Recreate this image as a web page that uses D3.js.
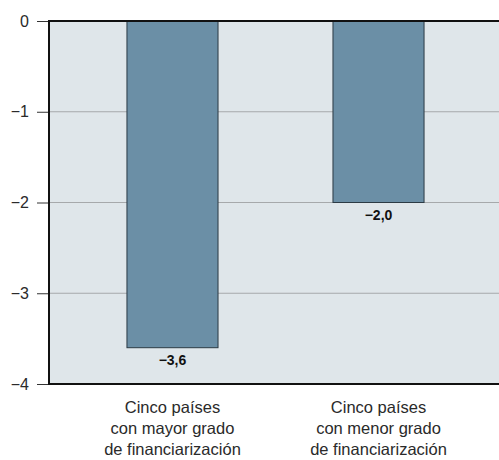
<!DOCTYPE html>
<html>
<head>
<meta charset="utf-8">
<script src="https://cdn.jsdelivr.net/npm/d3@7"></script>
<style>
  html, body { margin: 0; padding: 0; background: #fff; }
  svg { display: block; font-family: "Liberation Sans", Arial, sans-serif; }
</style>
</head>
<body>
<svg id="chart" width="499" height="460"></svg>
<script>
// Categories, values and tick labels
const categories = [
  ["Cinco países", "con mayor grado", "de financiarización"],
  ["Cinco países", "con menor grado", "de financiarización"]
];
const values = [-3.6, -2.0];
const valueLabels = ["\u22123,6", "\u22122,0"];
const yTicks = [0, -1, -2, -3, -4];
const yTickLabels = ["0", "\u22121", "\u22122", "\u22123", "\u22124"];

const svg = d3.select("#chart");
const plot = { left: 49, right: 510, top: 21, bottom: 384 };

const y = d3.scaleLinear().domain([0, -4]).range([plot.top, plot.bottom]);
const x = d3.scaleBand()
  .domain(d3.range(categories.length))
  .range([12, 539])
  .paddingInner(0.558)
  .paddingOuter(0.558);

// Plot background
svg.append("rect")
  .attr("x", plot.left).attr("y", plot.top)
  .attr("width", plot.right - plot.left).attr("height", plot.bottom - plot.top)
  .attr("fill", "#dfe6ea");

// Gridlines
svg.append("g").selectAll("line")
  .data(yTicks.filter(d => d !== 0 && d !== -4))
  .join("line")
  .attr("x1", plot.left).attr("x2", plot.right)
  .attr("y1", d => y(d)).attr("y2", d => y(d))
  .attr("stroke", "#a6a9ab").attr("stroke-width", 1.2);

// Bars
svg.append("g").selectAll("rect")
  .data(values)
  .join("rect")
  .attr("x", (d, i) => x(i))
  .attr("y", y(0))
  .attr("width", x.bandwidth())
  .attr("height", d => y(d) - y(0))
  .attr("fill", "#6b8fa6")
  .attr("stroke", "#2b3a44")
  .attr("stroke-width", 1);

// Frame: top, left and bottom edges
svg.append("line").attr("x1", plot.left).attr("x2", plot.right)
  .attr("y1", plot.top).attr("y2", plot.top)
  .attr("stroke", "#111").attr("stroke-width", 2);
svg.append("line").attr("x1", plot.left).attr("x2", plot.right)
  .attr("y1", plot.bottom).attr("y2", plot.bottom)
  .attr("stroke", "#111").attr("stroke-width", 2);
svg.append("line").attr("x1", plot.left).attr("x2", plot.left)
  .attr("y1", plot.top - 1).attr("y2", plot.bottom + 1)
  .attr("stroke", "#111").attr("stroke-width", 2);

// Y axis
const yAxis = d3.axisLeft(y)
  .tickValues(yTicks)
  .tickFormat((d, i) => yTickLabels[i])
  .tickSize(11)
  .tickPadding(8);
const gy = svg.append("g").attr("transform", `translate(${plot.left - 1},0)`).call(yAxis);
gy.select(".domain").remove();
gy.selectAll(".tick line").attr("stroke", "#333").attr("stroke-width", 1);
gy.selectAll(".tick text")
  .attr("fill", "#2a2a2a")
  .style("font-size", "16px")
  .style("font-family", "\"Liberation Sans\", Arial, sans-serif");

// Value labels under each bar
svg.append("g").selectAll("text")
  .data(values)
  .join("text")
  .attr("x", (d, i) => x(i) + x.bandwidth() / 2)
  .attr("y", d => y(d) + 17)
  .attr("text-anchor", "middle")
  .attr("font-size", "14px")
  .attr("font-weight", "bold")
  .attr("fill", "#111")
  .text((d, i) => valueLabels[i]);

// Category labels
const cat = svg.append("g").selectAll("text")
  .data(categories)
  .join("text")
  .attr("x", (d, i) => x(i) + x.bandwidth() / 2)
  .attr("y", 413)
  .attr("text-anchor", "middle")
  .attr("font-size", "16.5px")
  .attr("fill", "#2a2a2a");
cat.selectAll("tspan")
  .data(d => d)
  .join("tspan")
  .attr("x", function () { return d3.select(this.parentNode).attr("x"); })
  .attr("dy", (d, i) => i === 0 ? 0 : 21)
  .text(d => d);
</script>
</body>
</html>
